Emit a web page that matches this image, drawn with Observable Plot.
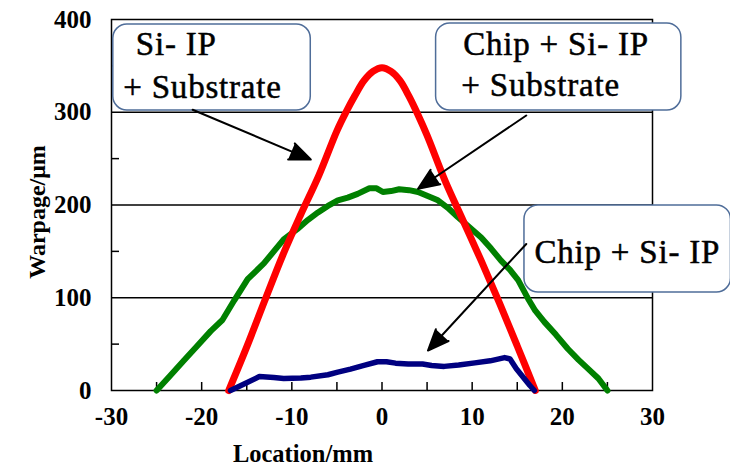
<!DOCTYPE html>
<html>
<head>
<meta charset="utf-8">
<script src="https://cdn.jsdelivr.net/npm/d3@7"></script>
<script src="https://cdn.jsdelivr.net/npm/@observablehq/plot@0.6"></script>
<style>
  html, body { margin: 0; padding: 0; background: #fff; }
  #chart { width: 730px; height: 469px; }
</style>
</head>
<body>
<div id="chart"></div>
<script>
// Si-IP + Substrate (red)
const redX = [-17, -15, -13, -11, -9, -7, -5, -4, -3, -2, -1, 0, 1, 2, 3, 4, 5, 7, 9, 11, 13, 15, 17];
const redY = [0, 47, 97, 146, 190, 232, 280, 300, 318, 334, 344, 348, 344, 334, 317, 297, 275, 226, 183, 140, 95, 48, 0];

// Chip + Si-IP + Substrate (green)
const greenX = [-25, -23.5, -22, -20.5, -19, -17.7, -16.4, -14.9, -13.1, -12, -10.9, -9.4, -8.2, -7.1, -6, -4.9, -3.8, -2.7, -1.4, -0.6, 0.1, 1, 1.9, 3, 4, 5, 6.2, 7.3, 8.4, 9.7, 11, 12.1, 13.2, 14.2, 15.1, 16.2, 17, 18, 19.3, 20.6, 21.8, 22.9, 24, 25];
const greenY = [0, 16, 32, 48, 64, 76, 97, 120, 137, 150, 163, 174, 184, 192, 199, 205, 208, 212, 218, 218, 214, 215, 217, 216, 214, 210, 205, 197, 187, 176, 165, 153, 140, 130, 119, 99, 86, 74, 60, 45, 33, 23, 13, 0];

// Chip + Si-IP (blue)
const blueX = [-16.8, -15.3, -13.6, -12, -10.9, -9, -7.9, -6, -4.9, -3.5, -2, -0.5, 0.5, 1.5, 2.9, 4.5, 5.5, 6.9, 8.5, 10.3, 12, 13.6, 14.2, 14.9, 16.4, 16.9];
const blueY = [0, 7, 15, 14, 13, 13.5, 14.4, 17, 19.8, 23, 27, 31, 31, 29.5, 28.7, 28.5, 27, 26, 27.5, 29.8, 32, 35.5, 34, 23.4, 5.4, 0];

// axes
const xLabelTicks = [-30, -20, -10, 0, 10, 20, 30];
const xMinorTicks = [-25, -20, -15, -10, -5, 0, 5, 10, 15, 20, 25];
const yLabelTicks = [0, 100, 200, 300, 400];
const yMinorTicks = [50, 150, 250, 350];
const gridY = [100, 200, 300];
const xTitle = "Location/mm";
const yTitle = "Warpage/μm";

// annotation boxes (data coordinates)
const boxX1 = [-29.8, 6.0, 15.8];
const boxX2 = [-7.9, 33.2, 38.7];
const boxY1 = [301.9, 301.9, 105.7];
const boxY2 = [394.6, 395.7, 199.5];

// annotation texts
const noteText = ["Si- IP", "+ Substrate", "Chip + Si- IP", "+ Substrate", "Chip + Si- IP"];
const noteX = [-27.3, -28.7, 9.0, 8.8, 16.9];
const noteY = [361.2, 315.9, 361.2, 318.0, 138.0];

// arrows
const arrowX1 = [-21.0, 16.0, 16.0];
const arrowY1 = [302.7, 296.5, 158.0];
const arrowX2 = [-7.9, 4.0, 5.1];
const arrowY2 = [249.0, 217.5, 43.1];

const serif = "Liberation Serif";
const fmt = d => String(d);

const chart = Plot.plot({
  width: 730,
  height: 469,
  marginLeft: 111,
  marginRight: 78,
  marginTop: 19,
  marginBottom: 79,
  style: { fontFamily: serif, background: "white", color: "black", overflow: "visible" },
  x: { domain: [-30, 30] },
  y: { domain: [0, 400] },
  marks: [
    Plot.ruleY(gridY, { stroke: "black", strokeWidth: 1.5 }),
    Plot.tickX(xMinorTicks, { x: d => d, insetTop: 363, stroke: "black", strokeWidth: 1.5 }),
    Plot.tickY(yMinorTicks, { y: d => d, insetRight: 533, stroke: "black", strokeWidth: 1.5 }),
    Plot.axisX(xLabelTicks, { tickSize: 0, tickPadding: 17, tickFormat: fmt, fontSize: 25, fontWeight: "bold", fontFamily: serif, label: null }),
    Plot.axisY(yLabelTicks, { tickSize: 0, tickPadding: 20, tickFormat: fmt, fontSize: 25, fontWeight: "bold", fontFamily: serif, label: null }),
    Plot.frame({ stroke: "black", strokeWidth: 1.5 }),
    Plot.text([xTitle], { text: d => d, frameAnchor: "bottom", textAnchor: "middle", lineAnchor: "middle", dx: -79, dy: 64, fontSize: 24.5, fontWeight: "bold", fontFamily: serif }),
    Plot.text([yTitle], { text: d => d, frameAnchor: "left", textAnchor: "middle", lineAnchor: "middle", rotate: -90, dx: -74, dy: 7, fontSize: 24, fontWeight: "bold", fontFamily: serif }),
    Plot.line({ length: greenX.length }, { x: greenX, y: greenY, stroke: "#008000", strokeWidth: 6, strokeLinejoin: "round", strokeLinecap: "round" }),
    Plot.line({ length: redX.length }, { x: redX, y: redY, stroke: "#ff0000", strokeWidth: 7, strokeLinejoin: "round", strokeLinecap: "round", curve: "catmull-rom" }),
    Plot.line({ length: blueX.length }, { x: blueX, y: blueY, stroke: "#000080", strokeWidth: 5.5, strokeLinejoin: "round", strokeLinecap: "round" }),
    Plot.rect({ length: boxX1.length }, { x1: boxX1, x2: boxX2, y1: boxY1, y2: boxY2, rx: 14, fill: "white", stroke: "#4f6d99", strokeWidth: 1.5 }),
    Plot.text({ length: noteText.length }, { x: noteX, y: noteY, text: noteText, textAnchor: "start", lineAnchor: "bottom", fontSize: 33, fontFamily: serif, fill: "black", stroke: "black", strokeWidth: 0.5 }),
    Plot.arrow({ length: arrowX1.length }, { x1: arrowX1, y1: arrowY1, x2: arrowX2, y2: arrowY2, stroke: "black", fill: "black", strokeWidth: 2, headLength: 17, headAngle: 45 })
  ]
});

document.getElementById("chart").appendChild(chart);
d3.select(chart).selectAll("text").filter(function () {
  return this.parentNode && this.parentNode.getAttribute("font-size") === "33";
}).style("letter-spacing", "0.8px");
</script>
</body>
</html>
